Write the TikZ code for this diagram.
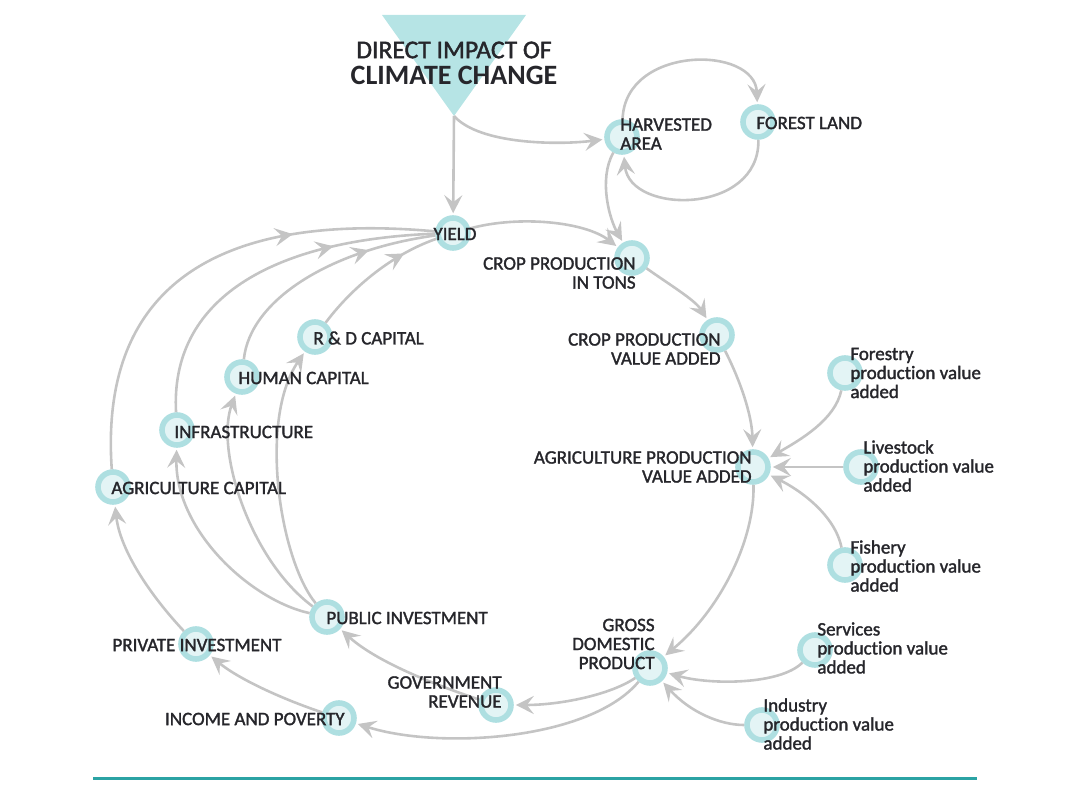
\documentclass[tikz,border=0pt]{standalone}
\usepackage{fontspec}
\setmainfont{Carlito}[Ligatures=NoCommon]
\newfontfamily\diagfont{Carlito}[Ligatures=NoCommon,FakeBold=1.6]
\usetikzlibrary{arrows.meta,decorations.markings}
\definecolor{ringc}{HTML}{AEDFE1}
\definecolor{corec}{HTML}{E3F4F5}
\definecolor{linec}{HTML}{C4C4C4}
\definecolor{tric}{HTML}{B6E4E5}
\definecolor{rulec}{HTML}{2BA3A4}
\definecolor{txtc}{HTML}{26262B}
\tikzset{
  dot/.style={circle,draw=ringc,fill=corec,line width=2.8pt,minimum size=15pt,inner sep=0pt},
  lab/.style={text=txtc,font=\diagfont\fontsize{9.5}{9.5}\selectfont,inner sep=0pt},
  flow/.style={draw=linec,line width=1.3pt,shorten >=1pt,-{Stealth[length=9pt,width=9pt,inset=3.5pt]}},
  midflow/.style={color=linec,draw,line width=1.3pt,postaction={decorate},
    decoration={markings,mark=at position #1 with {\arrow{Stealth[length=9pt,width=9pt,inset=3.5pt]}}}}
}
\begin{document}
\begin{tikzpicture}[x=0.5pt,y=-0.5pt]
    \useasboundingbox (0,0) rectangle (1087,807);
    \fill[tric] (382,15) -- (526,15) -- (454,116) -- cycle;
    \coordinate (apex) at (454,116);

    \node[dot] (harv) at (622,137) {};
    \node[dot] (forest) at (758,122) {};
    \node[dot] (yield) at (453,233) {};
    \node[dot] (tons) at (632,258) {};
    \node[dot] (cva) at (717,335) {};
    \node[dot] (agva) at (753,467) {};
    \node[dot] (forestry) at (845,373) {};
    \node[dot] (livestock) at (861,467) {};
    \node[dot] (fishery) at (845,565) {};
    \node[dot] (gdp) at (650,668) {};
    \node[dot] (services) at (815,650) {};
    \node[dot] (industry) at (762,725) {};
    \node[dot] (gov) at (496,705) {};
    \node[dot] (income) at (339,718) {};
    \node[dot] (pub) at (327,617) {};
    \node[dot] (priv) at (196,644) {};
    \node[dot] (agcap) at (113,487) {};
    \node[dot] (infra) at (177,430) {};
    \node[dot] (human) at (242,377) {};
    \node[dot] (rnd) at (315,337) {};

    \draw[flow] (apex) -- (yield);
    \draw[flow] (apex) .. controls (480,145) and (560,145) .. (harv);
    \draw[flow] (harv) .. controls (625,45) and (755,45) .. (forest);
    \draw[flow] (forest) .. controls (760,215) and (630,215) .. (harv);
    \draw[flow] (harv) .. controls (598,180) and (610,220) .. (tons);
    \draw[flow] (yield) .. controls (520,215) and (585,222) .. (tons);
    \draw[flow] (tons) .. controls (670,285) and (695,300) .. (cva);
    \draw[flow] (cva) .. controls (740,380) and (752,415) .. (agva);
    \draw[flow] (forestry) .. controls (835,420) and (800,440) .. (agva);
    \draw[flow] (livestock) -- (agva);
    \draw[flow] (fishery) .. controls (835,515) and (800,490) .. (agva);
    \draw[flow] (agva) .. controls (755,540) and (720,610) .. (gdp);
    \draw[flow] (services) .. controls (780,685) and (710,685) .. (gdp);
    \draw[flow] (industry) .. controls (720,725) and (690,712) .. (gdp);
    \draw[flow] (gdp) .. controls (610,695) and (560,705) .. (gov);
    \draw[flow] (gdp) .. controls (590,740) and (440,750) .. (income);
    \draw[flow] (gov) .. controls (450,690) and (380,665) .. (pub);
    \draw[flow] (income) .. controls (285,700) and (240,680) .. (priv);
    \draw[flow] (priv) .. controls (150,595) and (120,550) .. (agcap);
    \draw[flow] (pub) .. controls (250,600) and (175,530) .. (infra);
    \draw[flow] (pub) .. controls (250,560) and (215,450) .. (human);
    \draw[flow] (pub) .. controls (280,560) and (258,420) .. (rnd);
    \draw[midflow=0.70] (agcap) .. controls (100,300) and (200,210) .. (yield);
    \draw[midflow=0.71] (infra) .. controls (170,300) and (270,240) .. (yield);
    \draw[midflow=0.72] (human) .. controls (250,300) and (330,250) .. (yield);
    \draw[midflow=0.75] (rnd) .. controls (350,290) and (390,255) .. (yield);

    \node[text=txtc,font=\diagfont\fontsize{12.8}{13}\selectfont,inner sep=0pt] (titleA) at (454,50) {DIRECT IMPACT OF};
    \node[text=txtc,font=\fontsize{14}{14}\selectfont\bfseries,inner sep=0pt] (titleB) at (454,75.5) {CLIMATE CHANGE};
    \node[lab,anchor=west,align=left] (harvT) at (620,134) {HARVESTED\\AREA};
    \node[lab,anchor=west] (forestT) at (756,123) {FOREST LAND};
    \node[lab] (yieldT) at (455,234) {YIELD};
    \node[lab,anchor=east,align=right] (tonsT) at (636,273) {CROP PRODUCTION\\IN TONS};
    \node[lab,anchor=east,align=right] (cvaT) at (721,349) {CROP PRODUCTION\\VALUE ADDED};
    \node[lab,anchor=east,align=right] (agvaT) at (752,467) {AGRICULTURE PRODUCTION\\VALUE ADDED};
    \node[lab,anchor=west,align=left] (forestryT) at (850,373) {Forestry\\production value\\added};
    \node[lab,anchor=west,align=left] (livestockT) at (863,466) {Livestock\\production value\\added};
    \node[lab,anchor=west,align=left] (fisheryT) at (850,566) {Fishery\\production value\\added};
    \node[lab,anchor=east,align=right] (gdpT) at (655,644) {GROSS\\DOMESTIC\\PRODUCT};
    \node[lab,anchor=west,align=left] (servicesT) at (817,648) {Services\\production value\\added};
    \node[lab,anchor=west,align=left] (industryT) at (763,724) {Industry\\production value\\added};
    \node[lab,anchor=east,align=right] (govT) at (502,692) {GOVERNMENT\\REVENUE};
    \node[lab,anchor=east] (incomeT) at (345,719) {INCOME AND POVERTY};
    \node[lab,anchor=west] (pubT) at (326,618) {PUBLIC INVESTMENT};
    \node[lab] (privT) at (197,645) {PRIVATE INVESTMENT};
    \node[lab,anchor=west] (agcapT) at (111,488) {AGRICULTURE CAPITAL};
    \node[lab,anchor=west] (infraT) at (174,432) {INFRASTRUCTURE};
    \node[lab,anchor=west] (humanT) at (238,378) {HUMAN CAPITAL};
    \node[lab,anchor=west] (rndT) at (313,338) {R \& D CAPITAL};

    \draw[rulec,line width=1.5pt] (93,778) -- (977,778);
\end{tikzpicture}
\end{document}
